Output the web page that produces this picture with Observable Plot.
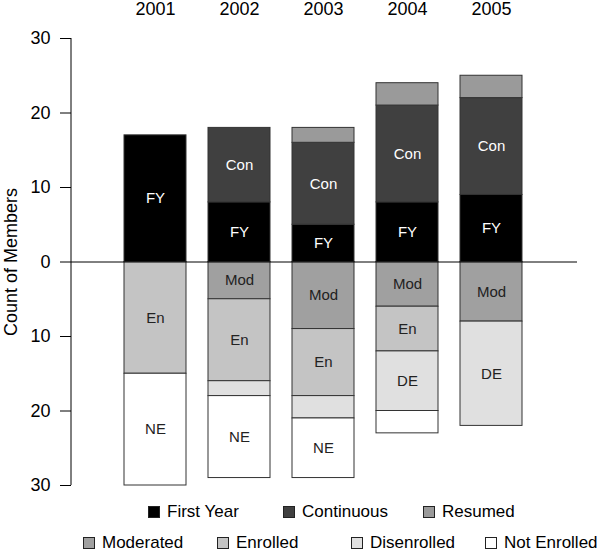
<!DOCTYPE html>
<html>
<head>
<meta charset="utf-8">
<script src="https://cdn.jsdelivr.net/npm/d3@7"></script>
<script src="https://cdn.jsdelivr.net/npm/@observablehq/plot@0.6"></script>
<style>
  body { margin: 0; background: #fff; font-family: "Liberation Sans", Arial, sans-serif; }
  #chart { position: relative; width: 600px; height: 551px; overflow: hidden; }
  #chart svg { display: block; }
  .legend { position: absolute; left: 0; top: 500px; width: 600px; height: 51px; font-size: 17px; color: #000; }
  .item { position: absolute; display: flex; align-items: center; white-space: nowrap; transform: translateY(-50%); line-height: 20px; }
  .sw { width: 10px; height: 10px; border: 1px solid #222; margin-right: 7px; flex: none; }
</style>
</head>
<body>
<div id="chart"></div>
<script>
// ---- data ----
const years = ["2001", "2002", "2003", "2004", "2005"];
const categories = ["First Year", "Continuous", "Resumed", "Moderated", "Enrolled", "Disenrolled", "Not Enrolled"];
const abbreviations = ["FY", "Con", "Res", "Mod", "En", "DE", "NE"];
const direction = [1, 1, 1, -1, -1, -1, -1];
const firstYear   = [17, 8, 5, 8, 9];
const continuous  = [0, 10, 11, 13, 13];
const resumed     = [0, 0, 2, 3, 3];
const moderated   = [0, 5, 9, 6, 8];
const enrolled    = [15, 11, 9, 6, 0];
const disenrolled = [0, 2, 3, 8, 14];
const notEnrolled = [15, 11, 8, 3, 0];
const yTicks = [-30, -20, -10, 0, 10, 20, 30];

// ---- styling ----
const fills = ["#000000", "#404040", "#9a9a9a", "#a0a0a0", "#c4c4c4", "#e0e0e0", "#ffffff"];
const labelFills = ["#ffffff", "#ffffff", "#222222", "#222222", "#222222", "#222222", "#222222"];

const series = [firstYear, continuous, resumed, moderated, enrolled, disenrolled, notEnrolled];
const rows = [];
years.forEach((year, i) => {
  categories.forEach((cat, j) => {
    const v = series[j][i];
    if (v !== 0) rows.push({ year, category: cat, abbr: abbreviations[j], fill: fills[j], labelFill: labelFills[j], value: direction[j] * v });
  });
});

function axisLine(index, scales, values, dimensions) {
  const line = document.createElementNS("http://www.w3.org/2000/svg", "line");
  const x = dimensions.marginLeft;
  line.setAttribute("x1", x);
  line.setAttribute("x2", x);
  line.setAttribute("y1", scales.y(yTicks[0]));
  line.setAttribute("y2", scales.y(yTicks[yTicks.length - 1]));
  line.setAttribute("stroke", "#000");
  return line;
}

const chart = Plot.plot({
  width: 600,
  height: 500,
  marginLeft: 71,
  marginRight: 23,
  marginTop: 38,
  marginBottom: 15,
  style: { fontFamily: "'Liberation Sans', Arial, sans-serif", fontSize: "18px", background: "#fff", color: "#000", overflow: "visible" },
  x: { domain: years, range: [102, 544], padding: 0.26 },
  y: { domain: [-30, 30] },
  color: { type: "identity" },
  marks: [
    Plot.barY(rows, Plot.stackY({ x: "year", y: "value", fill: "fill", stroke: "#333", strokeWidth: 1, inset: 0 })),
    Plot.text(rows, Plot.stackY({ x: "year", y: "value", text: d => Math.abs(d.value) >= 4 ? d.abbr : "", fill: "labelFill", fontSize: 15 })),
    Plot.ruleY([0], { stroke: "#000" }),
    Plot.axisX({ anchor: "top", tickSize: 0, tickPadding: 24, fontSize: 18, label: null }),
    Plot.axisY({ ticks: yTicks, tickFormat: d => Math.abs(d), tickSize: 11, tickPadding: 10, fontSize: 18,
      label: "Count of Members", labelArrow: false, labelAnchor: "center", labelOffset: 67 }),
    axisLine
  ]
});
document.getElementById("chart").appendChild(chart);

// ---- legend (HTML, below the SVG) ----
const legendPos = [
  { left: 148, top: 12 }, { left: 283, top: 12 }, { left: 423, top: 12 },
  { left: 83, top: 43 }, { left: 217, top: 43 }, { left: 351, top: 43 }, { left: 485, top: 43 }
];
const legend = document.createElement("div");
legend.className = "legend";
categories.forEach((cat, j) => {
  const item = document.createElement("div");
  item.className = "item";
  item.style.left = legendPos[j].left + "px";
  item.style.top = legendPos[j].top + "px";
  const sw = document.createElement("span");
  sw.className = "sw";
  sw.style.background = fills[j];
  const t = document.createElement("span");
  t.textContent = cat;
  item.appendChild(sw);
  item.appendChild(t);
  legend.appendChild(item);
});
document.getElementById("chart").appendChild(legend);
</script>
</body>
</html>
